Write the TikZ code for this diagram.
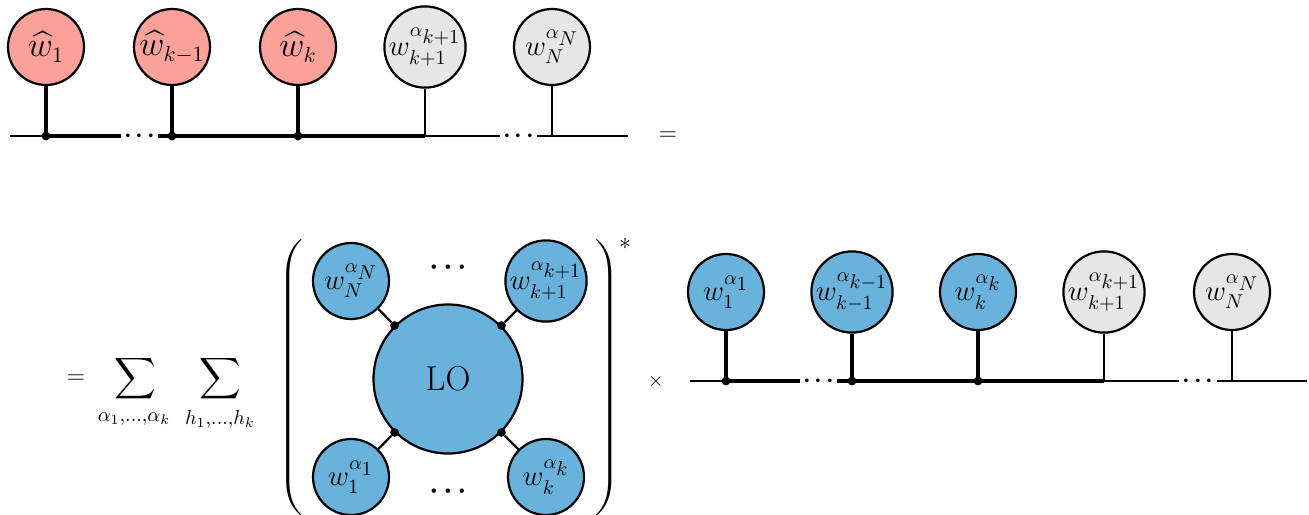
\documentclass[tikz,border=0pt]{standalone}
\usepackage{amsmath}
\usepackage{graphicx}
\definecolor{salmon}{RGB}{250,161,153}
\definecolor{lblue}{RGB}{104,178,220}
\definecolor{lgray}{RGB}{230,230,230}
\newcommand{\mydots}{{\cdot}\mkern1mu{\cdot}\mkern1mu{\cdot}}
\newcommand{\tallrule}{\vrule height 68pt depth 68pt width 0pt}
\begin{document}
\begin{tikzpicture}[x=0.5pt,y=-0.5pt,
  site/.style={circle,draw=black,line width=1.1pt,minimum size=38pt,inner sep=0pt,font=\Large},
  hatsite/.style={site,fill=salmon,font=\fontsize{16}{19}\selectfont},
  bsite/.style={site,fill=lblue},
  gsite/.style={site,fill=lgray},
  bond/.style={line width=2.3pt},
  thinbond/.style={line width=0.9pt},
  leg/.style={line width=1.1pt},
  joint/.style={circle,fill=black,inner sep=0pt,minimum size=4.4pt},
  gapdots/.style={anchor=base,yshift=-4.32pt,font=\LARGE,inner sep=0pt,minimum width=18.5pt},
  sym/.style={inner sep=0pt}]
\useasboundingbox (0,0) rectangle (1309,514);

% ---------- top chain ----------
\node[hatsite] (a1) at (46,47) {$\widehat{w}_1$};
\node[hatsite] (a2) at (172,47) {$\widehat{w}_{k-1}$};
\node[hatsite] (a3) at (298,47) {$\widehat{w}_k$};
\node[gsite] (a4) at (425,47) {$w^{\alpha_{\scriptstyle k+1}}_{k+1}$};
\node[gsite] (a5) at (552,47) {$w^{\alpha_{\scriptstyle N}}_{N}$};
\coordinate (l0) at (10,136);
\coordinate (j4) at (425,136);
\coordinate (j5) at (552,136);
\coordinate (r0) at (628,136);
\node[gapdots] (g1) at (139.5,136) {$\mydots$};
\node[gapdots] (g2) at (518.5,136) {$\mydots$};
\draw[thinbond] (l0) -- (j4 -| a1);
\draw[bond] (j4 -| a1) -- (g1.west |- j4);
\draw[bond] (g1.east |- j4) -- (j4);
\draw[thinbond] (j4) -- (g2.west |- j4);
\draw[thinbond] (g2.east |- j4) -- (r0);
\draw[bond] (a1) -- (j4 -| a1);
\draw[bond] (a2) -- (j4 -| a2);
\draw[bond] (a3) -- (j4 -| a3);
\draw[thinbond] (a4) -- (j4);
\draw[thinbond] (a5) -- (j5);
\node[joint] (d1) at (46,136) {};
\node[joint] (d2) at (172,136) {};
\node[joint] (d3) at (298,136) {};
\node[sym,font=\large] (eqtop) at (668,136) {$=$};

% ---------- sums ----------
\node[sym,font=\large] (eqbot) at (76,379) {$=$};
\node[sym,font=\Large] (sum1) at (135,379) {$\displaystyle\sum$};
\node[sym,font=\Large] (sum2) at (220,379) {$\displaystyle\sum$};
\node[sym,font=\Large] (sub1) at (134,419) {$\scriptstyle\alpha_1,\ldots,\alpha_k$};
\node[sym,font=\Large] (sub2) at (220,419) {$\scriptstyle h_1,\ldots,h_k$};

% ---------- bracketed LO network ----------
\node[anchor=west,inner sep=0pt] (lp) at (278,379) {\scalebox{1.4}[1]{$\left(\tallrule\right.$}};
\node[anchor=east,inner sep=0pt] (rp) at (620,379) {\scalebox{1.4}[1]{$\left.\tallrule\right)$}};
\node[sym,font=\large] (star) at (625,244) {$*$};
\node[bsite,minimum size=74.5pt,font=\LARGE] (LO) at (448,379) {LO};
\node[bsite] (sN) at (351,281) {$w^{\alpha_{\scriptstyle N}}_{N}$};
\node[bsite] (sK1) at (546,281) {$w^{\alpha_{\scriptstyle k+1}}_{k+1}$};
\node[bsite] (s1) at (351,477) {$w^{\alpha_{\scriptstyle 1}}_{1}$};
\node[bsite] (sK) at (546,477) {$w^{\alpha_{\scriptstyle k}}_{k}$};
\node[joint] (p1) at (LO.135) {};
\node[joint] (p2) at (LO.45) {};
\node[joint] (p3) at (LO.225) {};
\node[joint] (p4) at (LO.-45) {};
\draw[leg] (p1) -- (sN);
\draw[leg] (p2) -- (sK1);
\draw[leg] (p3) -- (s1);
\draw[leg] (p4) -- (sK);
\node[sym,font=\huge] (e1) at (448,268) {$\mydots$};
\node[sym,font=\huge] (e2) at (448,492) {$\mydots$};

% ---------- bottom chain ----------
\node[sym] (times) at (656,381) {$\times$};
\node[bsite] (b1) at (726,292) {$w^{\alpha_{\scriptstyle 1}}_{1}$};
\node[bsite] (b2) at (852,292) {$w^{\alpha_{\scriptstyle k-1}}_{k-1}$};
\node[bsite] (b3) at (978,292) {$w^{\alpha_{\scriptstyle k}}_{k}$};
\node[gsite] (b4) at (1104,292) {$w^{\alpha_{\scriptstyle k+1}}_{k+1}$};
\node[gsite] (b5) at (1232,292) {$w^{\alpha_{\scriptstyle N}}_{N}$};
\coordinate (m0) at (690,381);
\coordinate (k4) at (1104,381);
\coordinate (k5) at (1232,381);
\coordinate (m1) at (1307,381);
\node[gapdots] (h1) at (818.5,381) {$\mydots$};
\node[gapdots] (h2) at (1198,381) {$\mydots$};
\draw[thinbond] (m0) -- (k4 -| b1);
\draw[bond] (k4 -| b1) -- (h1.west |- k4);
\draw[bond] (h1.east |- k4) -- (k4);
\draw[thinbond] (k4) -- (h2.west |- k4);
\draw[thinbond] (h2.east |- k4) -- (m1);
\draw[bond] (b1) -- (k4 -| b1);
\draw[bond] (b2) -- (k4 -| b2);
\draw[bond] (b3) -- (k4 -| b3);
\draw[thinbond] (b4) -- (k4);
\draw[thinbond] (b5) -- (k5);
\node[joint] (f1) at (726,381) {};
\node[joint] (f2) at (852,381) {};
\node[joint] (f3) at (978,381) {};
\end{tikzpicture}
\end{document}
